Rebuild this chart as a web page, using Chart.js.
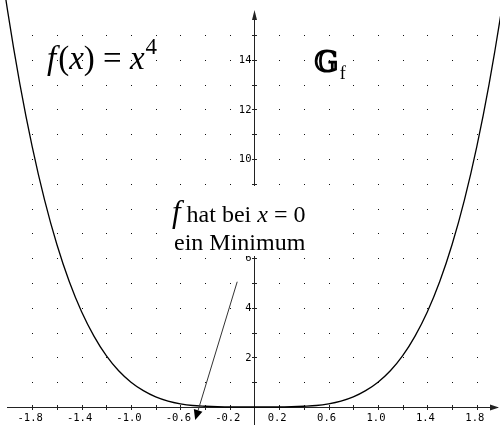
<!DOCTYPE html>
<html>
<head>
<meta charset="utf-8">
<script src="https://cdn.jsdelivr.net/npm/chart.js@4"></script>
<style>
  body { margin: 0; background: #fff; }
  #wrap { width: 500px; height: 425px; }
</style>
</head>
<body>
<div id="wrap"><canvas id="graph"></canvas></div>
<script>
// f(x) = x^4
var curveX = [-2.1, -2.0, -1.9, -1.8, -1.7, -1.6, -1.5, -1.4, -1.3, -1.2, -1.1, -1.0, -0.9, -0.8, -0.7, -0.6, -0.5, -0.4, -0.3, -0.2, -0.1,
  0.0, 0.1, 0.2, 0.3, 0.4, 0.5, 0.6, 0.7, 0.8, 0.9, 1.0, 1.1, 1.2, 1.3, 1.4, 1.5, 1.6, 1.7, 1.8, 1.9, 2.0, 2.1];
var curveY = [19.45, 16.0, 13.03, 10.5, 8.35, 6.55, 5.06, 3.84, 2.86, 2.07, 1.46, 1.0, 0.66, 0.41, 0.24, 0.13, 0.06, 0.03, 0.01, 0.0, 0.0,
  0.0, 0.0, 0.0, 0.01, 0.03, 0.06, 0.13, 0.24, 0.41, 0.66, 1.0, 1.46, 2.07, 2.86, 3.84, 5.06, 6.55, 8.35, 10.5, 13.03, 16.0, 19.45];

var xTicks = [-1.8, -1.6, -1.4, -1.2, -1.0, -0.8, -0.6, -0.4, -0.2, 0.2, 0.4, 0.6, 0.8, 1.0, 1.2, 1.4, 1.6, 1.8];
var xTickLabels = ['-1.8', '-1.4', '-1.0', '-0.6', '-0.2', '0.2', '0.6', '1.0', '1.4', '1.8'];
var yTicks = [1, 2, 3, 4, 5, 6, 7, 8, 9, 10, 11, 12, 13, 14, 15];
var yTickLabels = ['2', '4', '6', '8', '10', '12', '14'];

// pointer from the note down to the minimum
var noteArrowFrom = [-0.14, 5.05];
var noteArrowTo = [-0.48, -0.52];

var serif = '"Liberation Serif", "Times New Roman", serif';
var mono = '"DejaVu Sans Mono", monospace';

function drawRuns(ctx, runs, x, y) {
  for (var i = 0; i < runs.length; i++) {
    var r = runs[i];
    ctx.font = r.font;
    ctx.fillText(r.t, x, y + (r.dy || 0));
    x += ctx.measureText(r.t).width + (r.gap || 0);
  }
}

var graphPaper = {
  id: 'graphPaper',
  beforeDatasetsDraw: function (chart) {
    var ctx = chart.ctx;
    var sx = chart.scales.x, sy = chart.scales.y;
    var ca = chart.chartArea;
    var x0 = sx.getPixelForValue(0), y0 = sy.getPixelForValue(0);
    ctx.save();

    // dotted grid
    ctx.fillStyle = '#111';
    for (var i = 0; i < xTicks.length; i++) {
      for (var j = 0; j < yTicks.length; j++) {
        ctx.fillRect(Math.round(sx.getPixelForValue(xTicks[i])), Math.round(sy.getPixelForValue(yTicks[j])), 1, 1);
      }
    }

    // axes
    ctx.strokeStyle = '#222';
    ctx.fillStyle = '#222';
    ctx.lineWidth = 1;
    var ax = Math.round(x0) + 0.5, ay = Math.round(y0) + 0.5;
    ctx.beginPath();
    ctx.moveTo(ca.left + 7, ay); ctx.lineTo(ca.right - 2, ay);
    ctx.moveTo(ax, ca.bottom); ctx.lineTo(ax, ca.top + 12);
    for (var i = 0; i < xTicks.length; i++) {
      var tx = Math.round(sx.getPixelForValue(xTicks[i])) + 0.5;
      ctx.moveTo(tx, ay - 2.5); ctx.lineTo(tx, ay + 2.5);
    }
    for (var j = 0; j < yTicks.length; j++) {
      var ty = Math.round(sy.getPixelForValue(yTicks[j])) + 0.5;
      ctx.moveTo(ax - 2.5, ty); ctx.lineTo(ax + 2.5, ty);
    }
    ctx.stroke();

    // arrow heads
    ctx.beginPath();
    ctx.moveTo(ca.right - 1, ay); ctx.lineTo(ca.right - 10, ay - 3); ctx.lineTo(ca.right - 10, ay + 3); ctx.closePath();
    ctx.moveTo(ax, ca.top + 10); ctx.lineTo(ax - 2.5, ca.top + 20); ctx.lineTo(ax + 2.5, ca.top + 20); ctx.closePath();
    ctx.fill();

    // tick labels
    ctx.font = '10.5px ' + mono;
    ctx.fillStyle = '#000';
    ctx.textAlign = 'center';
    ctx.textBaseline = 'alphabetic';
    xTickLabels.forEach(function (lab) {
      ctx.fillText(lab, sx.getPixelForValue(parseFloat(lab)) - 2, ay + 13);
    });
    ctx.textAlign = 'right';
    ctx.textBaseline = 'middle';
    yTickLabels.forEach(function (lab) {
      ctx.fillText(lab, ax - 3, sy.getPixelForValue(parseFloat(lab)) + 0.5);
    });
    ctx.restore();
  },
  afterDatasetsDraw: function (chart) {
    var ctx = chart.ctx;
    var sx = chart.scales.x, sy = chart.scales.y;
    ctx.save();
    ctx.fillStyle = '#000';
    ctx.textAlign = 'left';
    ctx.textBaseline = 'alphabetic';

    // f(x) = x^4
    drawRuns(ctx, [
      {t: 'f', font: 'italic 33px ' + serif, gap: 2},
      {t: '(', font: '33px ' + serif},
      {t: 'x', font: 'italic 33px ' + serif},
      {t: ')', font: '33px ' + serif},
      {t: ' = ', font: '33px ' + serif},
      {t: 'x', font: 'italic 33px ' + serif, gap: 1},
      {t: '4', font: '23px ' + serif, dy: -15}
    ], 47, 69);

    // graph name
    drawRuns(ctx, [
      {t: '\u{1D53E}', font: 'bold 29px "DejaVu Serif", serif', gap: 1},
      {t: 'f', font: '18px ' + serif, dy: 7}
    ], 314, 72);

    // note, on a white patch over the axis
    ctx.fillStyle = '#fff';
    ctx.fillRect(160, 186, 192, 70);
    ctx.fillStyle = '#000';
    drawRuns(ctx, [
      {t: 'f', font: 'italic 31px ' + serif, gap: 6},
      {t: 'hat bei ', font: '24px ' + serif},
      {t: 'x', font: 'italic 24px ' + serif},
      {t: ' = 0', font: '24px ' + serif}
    ], 172, 222);
    drawRuns(ctx, [{t: 'ein Minimum', font: '24px ' + serif}], 174, 250);

    // pointer
    var ax1 = sx.getPixelForValue(noteArrowFrom[0]), ay1 = sy.getPixelForValue(noteArrowFrom[1]);
    var ax2 = sx.getPixelForValue(noteArrowTo[0]), ay2 = sy.getPixelForValue(noteArrowTo[1]);
    var ang = Math.atan2(ay2 - ay1, ax2 - ax1);
    var hl = 10, hw = 4.5;
    var bx = ax2 - hl * Math.cos(ang), by = ay2 - hl * Math.sin(ang);
    ctx.strokeStyle = '#333';
    ctx.lineWidth = 1;
    ctx.beginPath();
    ctx.moveTo(ax1, ay1); ctx.lineTo(bx, by);
    ctx.stroke();
    ctx.beginPath();
    ctx.moveTo(ax2, ay2);
    ctx.lineTo(bx + hw * Math.sin(ang), by - hw * Math.cos(ang));
    ctx.lineTo(bx - hw * Math.sin(ang), by + hw * Math.cos(ang));
    ctx.closePath();
    ctx.fill();
    ctx.restore();
  }
};

var ctx = document.getElementById('graph');
var graph = new Chart(ctx, {
  type: 'line',
  data: {
    datasets: [{
      data: curveX.map(function (x, i) { return {x: x, y: curveY[i]}; }),
      borderColor: '#000',
      borderWidth: 1.3,
      pointRadius: 0,
      tension: 0.4,
      cubicInterpolationMode: 'monotone',
      fill: false
    }]
  },
  options: {
    responsive: true,
    maintainAspectRatio: false,
    animation: false,
    layout: { padding: 0 },
    plugins: { legend: { display: false }, tooltip: { enabled: false } },
    scales: {
      x: { type: 'linear', min: -2.0607, max: 1.9879, display: false },
      y: { type: 'linear', min: -0.726, max: 16.41, display: false }
    }
  },
  plugins: [graphPaper]
});
</script>
</body>
</html>
